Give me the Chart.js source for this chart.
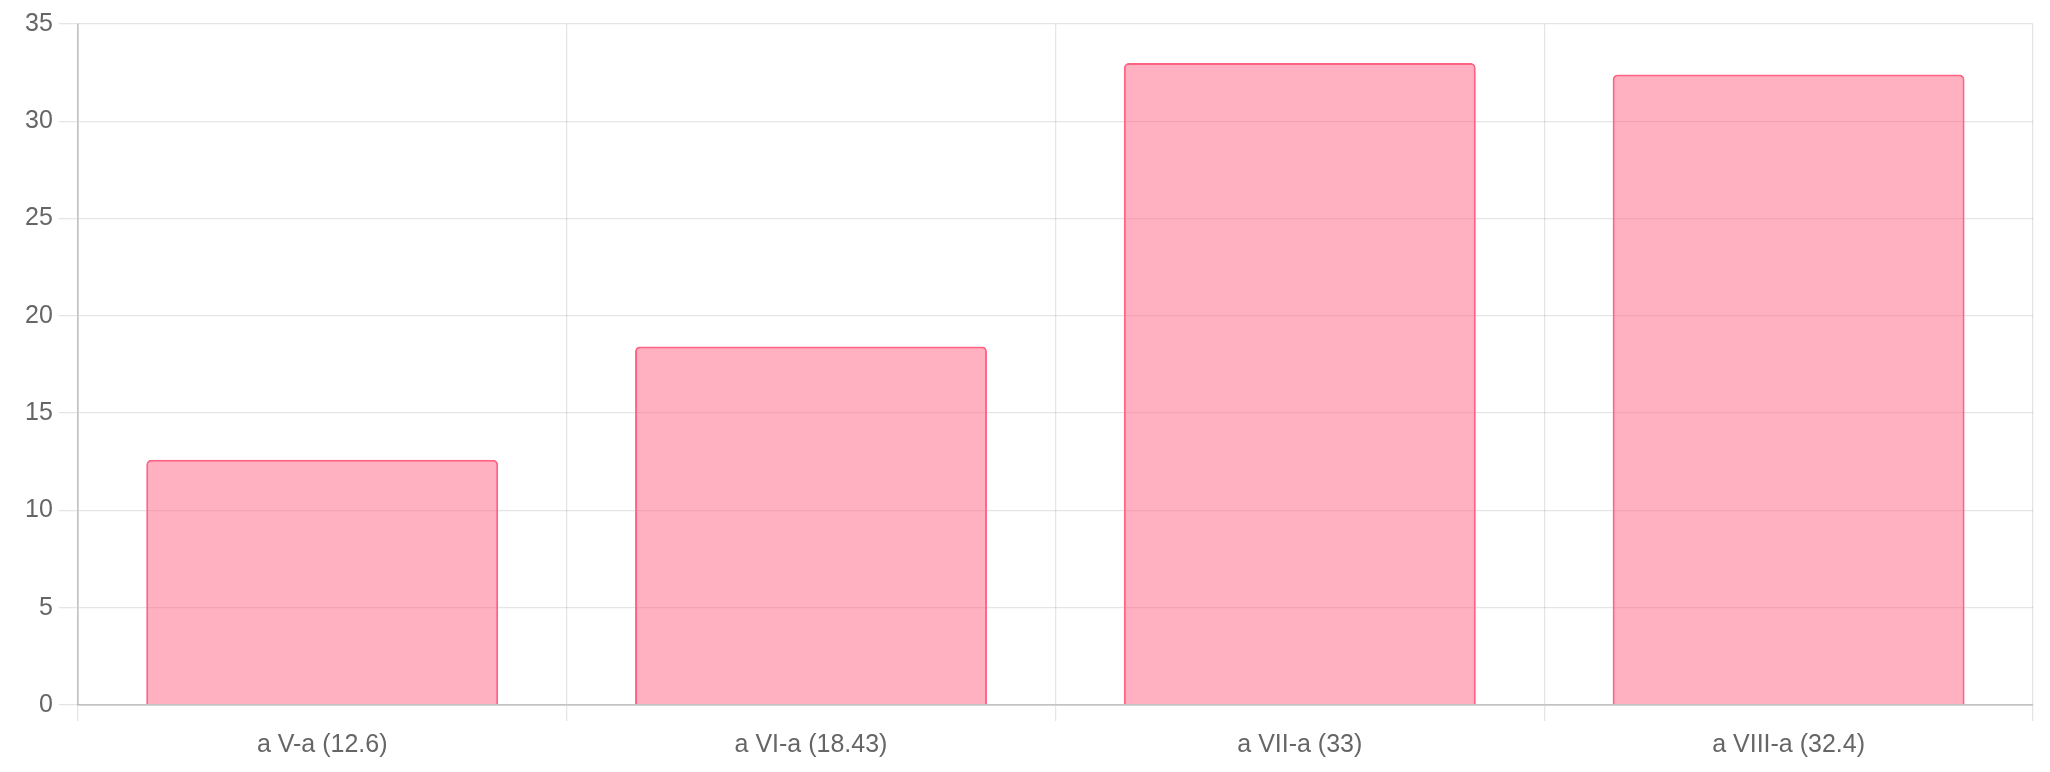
<!DOCTYPE html>
<html>
<head>
<meta charset="utf-8">
<script src="https://cdn.jsdelivr.net/npm/chart.js@4"></script>
<style>
  html, body { margin: 0; padding: 0; background: #fff; }
  #wrap { width: 2050px; height: 772px; }
</style>
</head>
<body>
<div id="wrap"><canvas id="chart"></canvas></div>
<script>
const categories = ['a V-a (12.6)', 'a VI-a (18.43)', 'a VII-a (33)', 'a VIII-a (32.4)'];
const values = [12.6, 18.43, 33, 32.4];
const yTicks = [0, 5, 10, 15, 20, 25, 30, 35];

Chart.defaults.font.family = '"Liberation Sans", Arial, Helvetica, sans-serif';
Chart.defaults.font.size = 25;
Chart.defaults.color = '#666';

const ctx = document.getElementById('chart').getContext('2d');
new Chart(ctx, {
  type: 'bar',
  data: {
    labels: categories,
    datasets: [{
      data: values,
      backgroundColor: 'rgba(255, 99, 132, 0.5)',
      borderColor: 'rgb(255, 99, 132)',
      borderWidth: 2,
      borderRadius: 5
    }]
  },
  options: {
    responsive: true,
    maintainAspectRatio: false,
    animation: false,
    layout: { padding: { top: 24, right: 17, left: 19, bottom: 3 } },
    plugins: {
      legend: { display: false },
      tooltip: { enabled: false }
    },
    scales: {
      x: {
        grid: { color: 'rgba(0,0,0,0.1)', tickLength: 16, lineWidth: 1.3 },
        border: { color: 'rgba(0,0,0,0.15)', width: 2 },
        ticks: { padding: 9 }
      },
      y: {
        min: yTicks[0],
        max: yTicks[yTicks.length - 1],
        afterBuildTicks: (axis) => { axis.ticks = yTicks.map(v => ({ value: v })); },
        grid: { color: 'rgba(0,0,0,0.1)', tickLength: 19, lineWidth: 1.3 },
        border: { color: 'rgba(0,0,0,0.15)', width: 2 },
        ticks: { padding: 6 }
      }
    }
  }
});
</script>
</body>
</html>
